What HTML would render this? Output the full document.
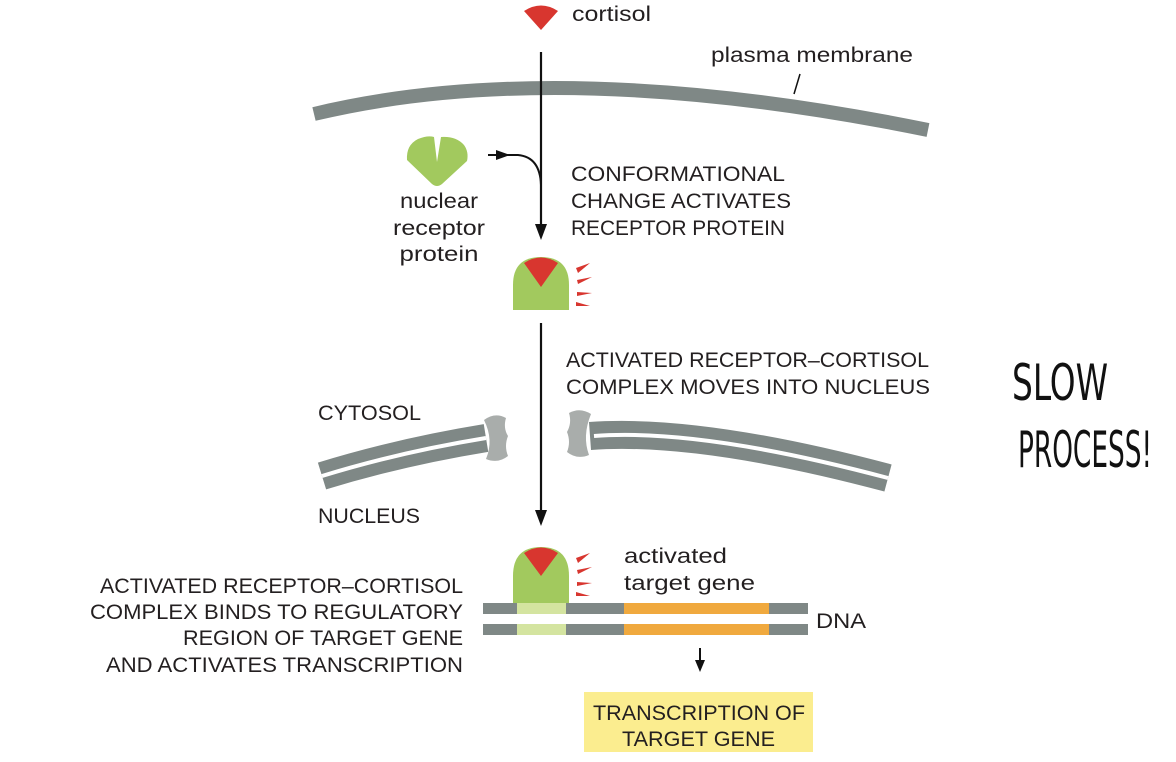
<!DOCTYPE html>
<html><head><meta charset="utf-8"><style>
html,body{margin:0;padding:0;background:#fff;}
svg{display:block;}
text{font-family:"Liberation Sans",sans-serif;fill:#231f20;}
</style></head><body>
<svg width="1176" height="762" viewBox="0 0 1176 762" xmlns="http://www.w3.org/2000/svg">
<!-- cortisol -->
<path d="M524,11 Q541,0 558,11 L541,30 Z" fill="#d8362f"/>
<text x="572" y="21" font-size="21" textLength="79" lengthAdjust="spacingAndGlyphs">cortisol</text>
<!-- plasma membrane -->
<path d="M314,114 Q560,55 928,130" stroke="#7f8886" stroke-width="14" fill="none"/>
<text x="711" y="62" font-size="21" textLength="202" lengthAdjust="spacingAndGlyphs">plasma membrane</text>
<line x1="800" y1="74" x2="794" y2="94" stroke="#111" stroke-width="1.5"/>
<!-- main arrow -->
<line x1="541" y1="52" x2="541" y2="226" stroke="#111" stroke-width="2.2"/>
<path d="M535,224 L547,224 L541,240 Z" fill="#111"/>
<!-- receptor -->
<path d="M407,160 Q406,145 418,139 Q428,135 434,137 L437,162 L441,137 Q456,136 464,145 Q469,152 467,161 L442,184 Q437,188 432,184 Z" fill="#a2c95e"/>
<!-- curved arrow -->
<path d="M488,155 L518,155 Q540,157 541,185" stroke="#111" stroke-width="2" fill="none"/>
<path d="M496,150 L510,155 L496,160 Z" fill="#111"/>
<text font-size="21" text-anchor="middle"><tspan x="439" y="208" textLength="78" lengthAdjust="spacingAndGlyphs">nuclear</tspan><tspan x="439" y="235" textLength="92" lengthAdjust="spacingAndGlyphs">receptor</tspan><tspan x="439" y="261" textLength="79" lengthAdjust="spacingAndGlyphs">protein</tspan></text>
<text font-size="21"><tspan x="571" y="181" textLength="214" lengthAdjust="spacingAndGlyphs">CONFORMATIONAL</tspan><tspan x="571" y="208" textLength="220" lengthAdjust="spacingAndGlyphs">CHANGE ACTIVATES</tspan><tspan x="571" y="235" textLength="214" lengthAdjust="spacingAndGlyphs">RECEPTOR PROTEIN</tspan></text>
<!-- activated complex 1 -->
<path d="M513,310 L513,285 Q513,257 541,257 Q569,257 569,285 L569,310 Z" fill="#a2c95e"/>
<path d="M524,263 Q541,252 558,263 L541,287 Z" fill="#d8362f"/>
<path d="M576,268 L590,263 L578,273 Z M577,280 L592,277 L578,284 Z M577,292 L592,293 L577,296 Z M576,302 L590,306 L576,306 Z" fill="#d8362f"/>
<!-- second arrow -->
<line x1="541" y1="323" x2="541" y2="512" stroke="#111" stroke-width="2.2"/>
<path d="M535,510 L547,510 L541,526 Z" fill="#111"/>
<text font-size="21"><tspan x="566" y="367" textLength="363" lengthAdjust="spacingAndGlyphs">ACTIVATED RECEPTOR–CORTISOL</tspan><tspan x="566" y="394" textLength="364" lengthAdjust="spacingAndGlyphs">COMPLEX MOVES INTO NUCLEUS</tspan></text>
<text x="318" y="420" font-size="21" textLength="103" lengthAdjust="spacingAndGlyphs">CYTOSOL</text>
<text x="318" y="523" font-size="21" textLength="102" lengthAdjust="spacingAndGlyphs">NUCLEUS</text>
<!-- nuclear envelope -->
<path d="M322,476 Q400,452 486,438" stroke="#7f8886" stroke-width="28" fill="none"/>
<path d="M322,476 Q400,452 486,438" stroke="#fff" stroke-width="4" fill="none"/>
<path d="M590,436 Q700,428 888,478" stroke="#7f8886" stroke-width="28" fill="none"/>
<path d="M594,436 Q700,428 888,478" stroke="#fff" stroke-width="4" fill="none"/>
<!-- pores -->
<path d="M484,420 Q495,412 506,418 Q503,428 508,436 Q504,446 508,456 Q498,464 486,459 Q494,440 484,420 Z" fill="#a9adab"/>
<path d="M591,414 Q580,407 569,413 Q572,423 567,432 Q571,442 567,452 Q577,460 589,455 Q582,436 591,414 Z" fill="#a9adab"/>
<!-- activated complex 2 -->
<path d="M513,603 L513,576 Q513,547 541,547 Q569,547 569,576 L569,603 Z" fill="#a2c95e"/>
<path d="M524,553 Q541,542 558,553 L541,576 Z" fill="#d8362f"/>
<path d="M576,558 L590,553 L578,563 Z M577,570 L592,567 L578,574 Z M577,582 L592,583 L577,586 Z M576,592 L590,596 L576,596 Z" fill="#d8362f"/>
<text font-size="21"><tspan x="624" y="563" textLength="103" lengthAdjust="spacingAndGlyphs">activated</tspan><tspan x="624" y="590" textLength="131" lengthAdjust="spacingAndGlyphs">target gene</tspan></text>
<!-- DNA -->
<rect x="483" y="603" width="325" height="11" fill="#7f8886"/>
<rect x="483" y="624" width="325" height="11" fill="#7f8886"/>
<rect x="517" y="603" width="49" height="11" fill="#d4e4a0"/>
<rect x="517" y="624" width="49" height="11" fill="#d4e4a0"/>
<rect x="624" y="603" width="145" height="11" fill="#f0a93e"/>
<rect x="624" y="624" width="145" height="11" fill="#f0a93e"/>
<text x="816" y="628" font-size="21" textLength="50" lengthAdjust="spacingAndGlyphs">DNA</text>
<text font-size="21"><tspan x="100" y="593" textLength="363" lengthAdjust="spacingAndGlyphs">ACTIVATED RECEPTOR–CORTISOL</tspan><tspan x="90" y="619" textLength="373" lengthAdjust="spacingAndGlyphs">COMPLEX BINDS TO REGULATORY</tspan><tspan x="183" y="645" textLength="280" lengthAdjust="spacingAndGlyphs">REGION OF TARGET GENE</tspan><tspan x="106" y="672" textLength="357" lengthAdjust="spacingAndGlyphs">AND ACTIVATES TRANSCRIPTION</tspan></text>
<!-- arrow to box -->
<line x1="700" y1="648" x2="700" y2="662" stroke="#111" stroke-width="2"/>
<path d="M695,660 L705,660 L700,672 Z" fill="#111"/>
<rect x="584" y="692" width="229" height="60" fill="#fbed8f"/>
<text font-size="21"><tspan x="593" y="720" textLength="212" lengthAdjust="spacingAndGlyphs">TRANSCRIPTION OF</tspan><tspan x="622" y="746" textLength="153" lengthAdjust="spacingAndGlyphs">TARGET GENE</tspan></text>
<!-- handwriting -->
<text x="1012" y="400" font-size="50" style="font-family:'DejaVu Sans Condensed','DejaVu Sans',sans-serif;font-weight:normal;fill:#111" textLength="96" lengthAdjust="spacingAndGlyphs">SLOW</text>
<text x="1018" y="467" font-size="50" style="font-family:'DejaVu Sans Condensed','DejaVu Sans',sans-serif;font-weight:normal;fill:#111" textLength="134" lengthAdjust="spacingAndGlyphs">PROCESS!</text>
</svg>
</body></html>
